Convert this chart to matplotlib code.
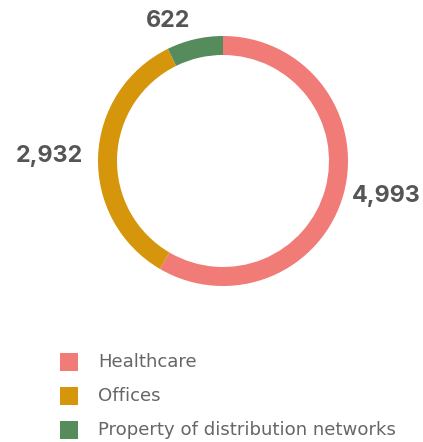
import numpy as np
import matplotlib.pyplot as plt
from matplotlib.patches import Rectangle

categories = ["Healthcare", "Offices", "Property of distribution networks"]
values = [4993, 2932, 622]
colors = ["#F07B77", "#D5960B", "#568C5B"]
value_labels = ["4,993", "2,932", "622"]

W, H = 423, 442
fig = plt.figure(figsize=(W / 100, H / 100), dpi=100)
ax = fig.add_axes([0, 0, 1, 1])

cx, cy, r = 223, H - 161, 125
wedges, _ = ax.pie(values, colors=colors, startangle=90, counterclock=False,
                   center=(cx, cy), radius=r, frame=True,
                   wedgeprops=dict(width=19, linewidth=0))
ax.set_xlim(0, W)
ax.set_ylim(0, H)
ax.set_aspect("equal")
ax.axis("off")

# value labels outside the ring, at each wedge's mid angle
dist = [1.07, 1.12, 1.15]
for w, lab, d in zip(wedges, value_labels, dist):
    ang = np.deg2rad((w.theta1 + w.theta2) / 2)
    x = cx + d * r * np.cos(ang)
    y = cy + d * r * np.sin(ang)
    ha = "left" if np.cos(ang) > 0 else "right"
    ax.text(x, y, lab, ha=ha, va="center", fontsize=16.8, fontweight="bold",
            color="#555555", family="Inter")

# legend
for i, (cat, col) in enumerate(zip(categories, colors)):
    yc = H - (362 + i * 34)
    ax.add_patch(Rectangle((60, yc - 9), 18, 18, color=col, linewidth=0))
    ax.text(98, yc, cat, ha="left", va="center", fontsize=13.1,
            color="#666666", family="DejaVu Sans")

fig.savefig("out.png", dpi=100)
